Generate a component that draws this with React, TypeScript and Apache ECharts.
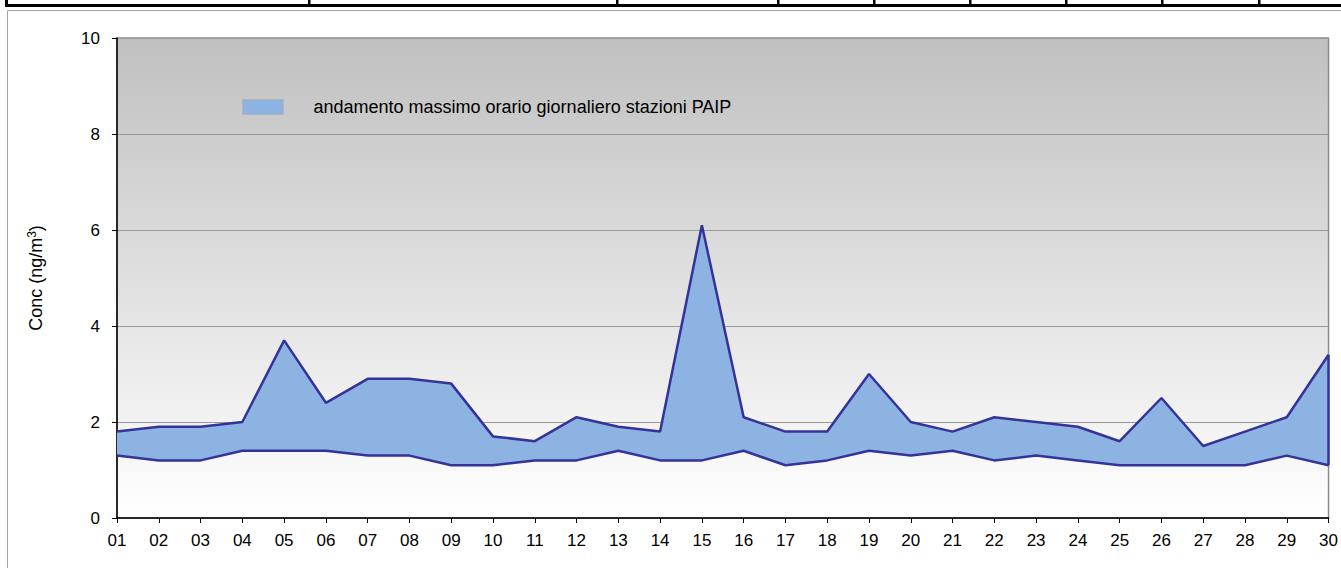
import React, { useEffect, useRef } from "react";
import * as echarts from "echarts";

const days = ["01","02","03","04","05","06","07","08","09","10","11","12","13","14","15","16","17","18","19","20","21","22","23","24","25","26","27","28","29","30"];
const upper = [1.8,1.9,1.9,2.0,3.7,2.4,2.9,2.9,2.8,1.7,1.6,2.1,1.9,1.8,6.1,2.1,1.8,1.8,3.0,2.0,1.8,2.1,2.0,1.9,1.6,2.5,1.5,1.8,2.1,3.4];
const lower = [1.3,1.2,1.2,1.4,1.4,1.4,1.3,1.3,1.1,1.1,1.2,1.2,1.4,1.2,1.2,1.4,1.1,1.2,1.4,1.3,1.4,1.2,1.3,1.2,1.1,1.1,1.1,1.1,1.3,1.1];
const yTicks = [0, 2, 4, 6, 8, 10];
const seriesName = "andamento massimo orario giornaliero stazioni PAIP";
const tableColumns = [309, 617, 778, 874, 970, 1066, 1162, 1259];

export default function App() {
  const ref = useRef<HTMLDivElement>(null);
  useEffect(() => {
    document.body.style.margin = "0";
    const chart = echarts.init(ref.current!, null, { renderer: "svg" });
    const diff = upper.map((u, i) => +(u - lower[i]).toFixed(2));
    const last = days.length - 1;
    const lineColor = "#333399";
    const graphics: any[] = [
      { type: "rect", shape: { x: 7.5, y: 10.5, width: 1340, height: 570 }, style: { fill: "none", stroke: "#a6a6a6", lineWidth: 1 }, z: -1 },
      { type: "rect", shape: { x: 5, y: 4, width: 1336, height: 3 }, style: { fill: "#000" } },
      { type: "rect", shape: { x: 5, y: 0, width: 3, height: 6 }, style: { fill: "#000" } },
    ];
    tableColumns.forEach((x) => {
      graphics.push({ type: "rect", shape: { x: x - 1, y: 0, width: 2.5, height: 6 }, style: { fill: "#000" } });
    });
    chart.setOption({
      animation: false,
      textStyle: { fontFamily: "Liberation Sans, Arial, sans-serif" },
      grid: {
        left: 117, top: 38, right: 12, bottom: 50,
        show: true,
        borderColor: "#8c8c8c",
        borderWidth: 1.5,
        backgroundColor: new echarts.graphic.LinearGradient(0, 0, 0, 1, [
          { offset: 0, color: "#c0c0c0" },
          { offset: 1, color: "#ffffff" },
        ]),
      },
      legend: {
        data: [seriesName],
        left: 237,
        top: 93,
        itemWidth: 41,
        itemHeight: 15,
        icon: "rect",
        itemStyle: { borderColor: "#b4b4b4", borderWidth: 1 },
        textStyle: { fontSize: 18, color: "#000", padding: [0, 0, 0, 25] },
      },
      xAxis: {
        type: "category",
        data: days,
        boundaryGap: false,
        axisLine: { lineStyle: { color: "#000", width: 1.5 } },
        axisTick: { show: true, length: 5, lineStyle: { color: "#000" } },
        axisLabel: { fontSize: 17, color: "#000", margin: 14 },
        splitLine: { show: false },
      },
      yAxis: {
        type: "value",
        min: 0,
        max: 10,
        interval: 2,
        name: "{a|Conc (ng/m}{s|3}{a|)}",
        nameLocation: "middle",
        nameRotate: 90,
        nameGap: 71,
        nameTextStyle: {
          color: "#000",
          rich: {
            a: { fontSize: 18, color: "#000", fontFamily: "Liberation Sans, Arial, sans-serif" },
            s: { fontSize: 12, color: "#000", verticalAlign: "top", padding: [0, 0, 8, 0], fontFamily: "Liberation Sans, Arial, sans-serif" },
          },
        },
        axisLine: { show: true, lineStyle: { color: "#000", width: 1.5 } },
        axisTick: { show: true, length: 5, lineStyle: { color: "#000" } },
        axisLabel: {
          fontSize: 17, color: "#000", margin: 17,
          formatter: (v: number) => (yTicks.includes(v) ? String(v) : ""),
        },
        splitLine: { show: true, lineStyle: { color: "#999", width: 1 } },
      },
      series: [
        {
          name: "lower",
          type: "line",
          stack: "band",
          data: lower,
          symbol: "none",
          lineStyle: { color: lineColor, width: 2.5 },
          z: 3,
        },
        {
          name: seriesName,
          type: "line",
          stack: "band",
          data: diff,
          symbol: "none",
          itemStyle: { color: "#8db3e2" },
          lineStyle: { color: lineColor, width: 2.5 },
          areaStyle: { color: "#8db3e2", opacity: 1 },
          z: 2,
          markLine: {
            symbol: "none",
            silent: true,
            label: { show: false },
            lineStyle: { color: lineColor, width: 2.5, type: "solid" },
            data: [[{ coord: [days[last], lower[last]] }, { coord: [days[last], upper[last]] }]],
          },
        },
      ],
      graphic: graphics,
    });
    return () => chart.dispose();
  }, []);
  return <div ref={ref} style={{ width: 1341, height: 568 }} />;
}
